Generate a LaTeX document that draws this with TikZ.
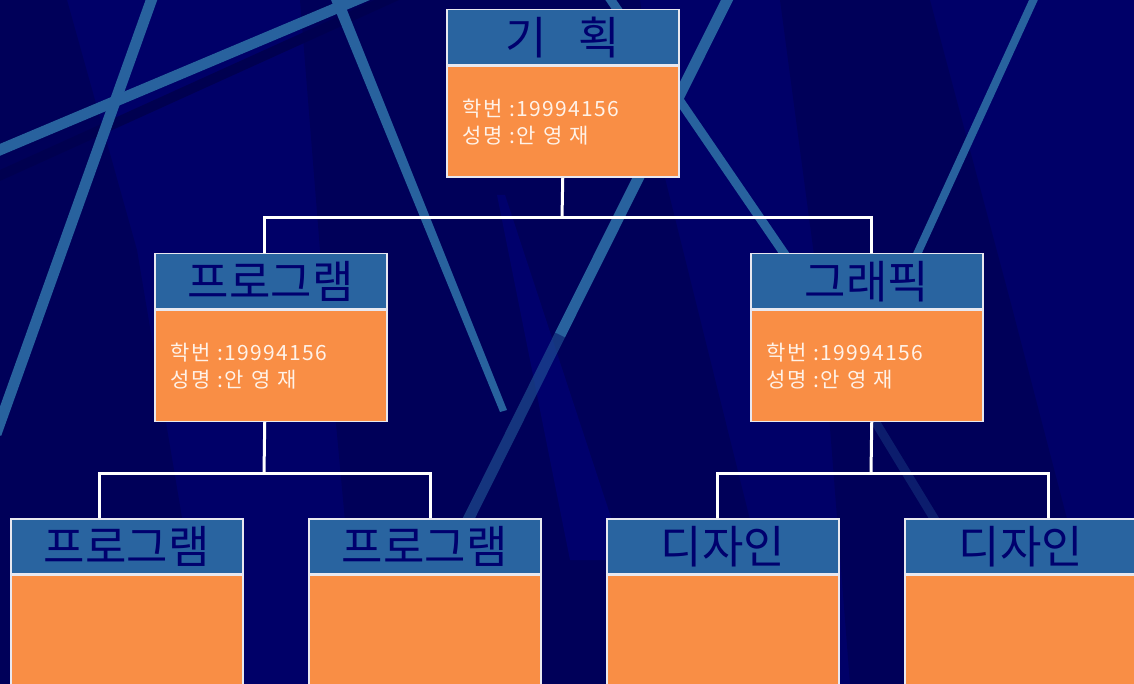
\documentclass[tikz,border=0pt]{standalone}
\usepackage{fontspec}
\newfontfamily\kr{Noto Sans CJK KR}
\newfontfamily\krwide[LetterSpace=6]{Noto Sans CJK KR}
\definecolor{bg}{RGB}{0,0,104}
\definecolor{bgdark}{RGB}{0,0,80}
\definecolor{bglight}{RGB}{0,0,122}
\definecolor{streakc}{RGB}{40,98,158}
\definecolor{hdr}{RGB}{41,100,160}
\definecolor{bodyc}{RGB}{249,142,69}
\definecolor{hdrtxt}{RGB}{0,0,110}
\definecolor{bodytxt}{RGB}{255,242,232}
\definecolor{edge}{RGB}{232,232,240}
\tikzset{
  hbox/.style={draw=edge, line width=1.5pt, fill=hdr, minimum width=232pt, minimum height=55pt,
    inner sep=0pt, anchor=north west, text=hdrtxt, font=\kr\fontsize{45}{45}\selectfont},
  bbox/.style={draw=edge, line width=1.5pt, fill=bodyc, minimum width=232pt, minimum height=111pt,
    inner sep=0pt, anchor=north west, text=bodytxt, font=\krwide\fontsize{21}{27}\selectfont,
    align=left, text width=200pt},
  conn/.style={draw=white, line width=3pt},
  streak/.style={draw=streakc, line width=11pt},
  darkband/.style={fill=bgdark, opacity=0.6},
}
\begin{document}
\begin{tikzpicture}[x=1pt,y=-1pt]
\useasboundingbox (0,0) rectangle (1134,684);
\clip (0,0) rectangle (1134,684);
% background
\fill[bg] (0,0) rectangle (1134,684);
\fill[darkband] (0,0) -- (67,0) -- (137,250) -- (210,684) -- (0,684) -- cycle;
\fill[darkband] (780,0) -- (930,0) -- (1010,300) -- (1110,684) -- (850,684) -- (820,300) -- cycle;
\fill[darkband] (300,0) -- (640,0) -- (663,170) -- (760,560) -- (700,684) -- (360,684) -- (320,250) -- cycle;
\fill[bglight, opacity=0.6] (497,195) -- (505,195) -- (625,560) -- (570,560) -- cycle;
% streaks
\draw[draw=bgdark, line width=10pt] (-10,180) -- (400,-6);
\draw[streak, line width=11pt] (155,-10) -- (-4,434);
\draw[streak, line width=11pt] (-10,154) -- (370,-6);
\fill[streakc] (329,-5) -- (341,-5) -- (507,410) -- (500,412) -- cycle;
\draw[streak, line width=11pt] (732,-10) -- (560,335);
\draw[streak, line width=11pt, opacity=0.55] (560,335) -- (466,524);
\draw[streak, line width=9pt] (604,-10) -- (790,262);
\draw[streak, line width=9pt, opacity=0.3] (873,418) -- (935,520);
\draw[streak, line width=8pt] (1038,-10) -- (880,335);
% boxes
\node[hbox] (th) at (446,9) {기\hspace{31pt}획};
\node[bbox] (tb) at (th.south west) {학번 :19994156\\성명 :안 영 재};
\node[hbox] (ph) at (154,253) {프로그램};
\node[bbox] (pb) at (ph.south west) {학번 :19994156\\성명 :안 영 재};
\node[hbox] (gh) at (750,253) {그래픽};
\node[bbox] (gb) at (gh.south west) {학번 :19994156\\성명 :안 영 재};
\node[hbox] (b1h) at (10,518) {프로그램};
\node[bbox, minimum height=120pt] (b1b) at (b1h.south west) {};
\node[hbox] (b2h) at (308,518) {프로그램};
\node[bbox, minimum height=120pt] (b2b) at (b2h.south west) {};
\node[hbox] (b3h) at (606,518) {디자인};
\node[bbox, minimum height=120pt] (b3b) at (b3h.south west) {};
\node[hbox] (b4h) at (904,518) {디자인};
\node[bbox, minimum height=120pt] (b4b) at (b4h.south west) {};
% connectors
\coordinate (j0) at (562,218);
\coordinate (j1) at (264,473);
\coordinate (j2) at (871,473);
\draw[conn] (tb.south) -- (j0);
\draw[conn] ([xshift=-6pt]ph.north) |- (j0) -| ([xshift=5pt]gh.north);
\draw[conn] ([xshift=-6pt]pb.south) -- (j1);
\draw[conn] ([xshift=-27pt]b1h.north) |- (j1) -| ([xshift=6pt]b2h.north);
\draw[conn] ([xshift=5pt]gb.south) -- (j2);
\draw[conn] ([xshift=-5pt]b3h.north) |- (j2) -| ([xshift=28pt]b4h.north);
\end{tikzpicture}
\end{document}
